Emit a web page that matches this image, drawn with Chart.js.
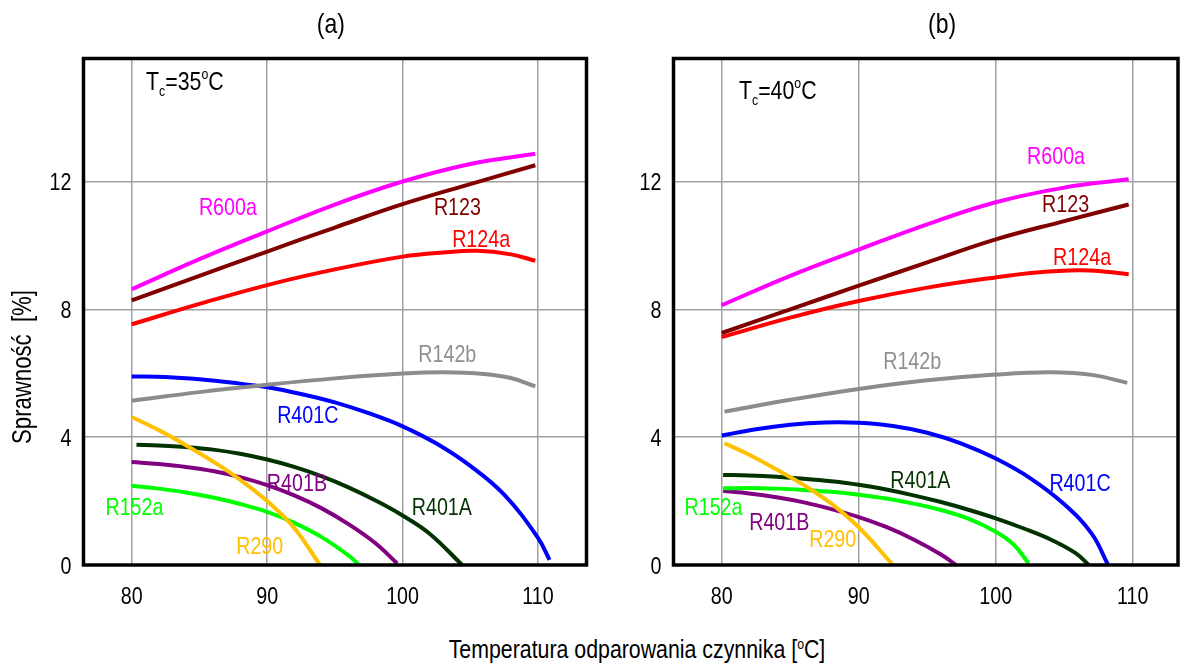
<!DOCTYPE html>
<html>
<head>
<meta charset="utf-8">
<script src="https://cdn.jsdelivr.net/npm/chart.js@4.4.0/dist/chart.umd.min.js"></script>
<style>
  body { margin: 0; background: #fff; }
  #wrap { position: relative; width: 1180px; height: 666px; overflow: hidden; }
  #ca { position: absolute; left: 0; top: 0; }
  #cb { position: absolute; left: 590px; top: 0; }
  #xtitle {
    position: absolute; left: 637px; top: 634px;
    transform: translateX(-50%) scaleX(0.82);
    white-space: nowrap; color: #000;
    font: 26px "Liberation Sans", Arial, sans-serif;
  }
  #xtitle sup { font-size: 15px; vertical-align: 9px; line-height: 0; }
</style>
</head>
<body>
<div id="wrap">
  <canvas id="ca" width="600" height="620"></canvas>
  <canvas id="cb" width="590" height="620"></canvas>
  <div id="xtitle">Temperatura odparowania czynnika [<sup>o</sup>C]</div>
</div>
<script>
// ticks
const xTicks = [80, 90, 100, 110];
const yTicks = [0, 4, 8, 12];

// (a) Tc = 35 C  -- [temperatura, sprawnosc]
const a_R600a = [[80, 8.63], [85, 9.57], [90, 10.44], [95, 11.28], [100, 12.0], [105, 12.55], [109.8, 12.87]];
const a_R123  = [[80, 8.28], [85, 9.05], [90, 9.81], [95, 10.56], [100, 11.29], [105, 11.92], [109.8, 12.51]];
const a_R124a = [[80, 7.53], [85, 8.17], [90, 8.76], [95, 9.25], [100, 9.65], [103, 9.78], [105.5, 9.83], [108, 9.72], [109.8, 9.52]];
const a_R142b = [[80, 5.14], [85, 5.41], [90, 5.64], [95, 5.84], [100, 5.99], [103, 6.03], [106, 5.98], [108, 5.85], [109.8, 5.59]];
const a_R401C = [[80, 5.9], [82.5, 5.88], [85, 5.81], [87.5, 5.7], [90, 5.56], [92.5, 5.35], [95, 5.09], [97.5, 4.75],
  [100, 4.34], [102.5, 3.8], [105, 3.1], [107.5, 2.2], [110, 0.85], [110.85, 0.16]];
const a_R290  = [[80, 4.63], [82, 4.22], [84, 3.75], [86, 3.24], [88, 2.67], [90, 2.0], [92, 1.16], [93.9, 0]];
const a_R401A = [[80.35, 3.76], [82, 3.74], [84, 3.69], [86, 3.61], [88, 3.48], [90, 3.3], [92, 3.07], [94, 2.78],
  [96, 2.43], [98, 2.02], [100, 1.55], [102, 0.98], [104.4, 0]];
const a_R401B = [[80, 3.22], [82, 3.16], [84, 3.07], [86, 2.94], [88, 2.75], [90, 2.5], [92, 2.18], [94, 1.78],
  [96, 1.28], [98, 0.68], [99.6, 0.05]];
const a_R152a = [[80, 2.48], [82, 2.39], [84, 2.27], [86, 2.11], [88, 1.91], [90, 1.66], [92, 1.32], [94, 0.88],
  [96, 0.3], [96.8, 0]];

// (b) Tc = 40 C
const b_R600a = [[80, 8.13], [85, 9.05], [90, 9.87], [95, 10.66], [100, 11.35], [105, 11.81], [109.7, 12.07]];
const b_R123  = [[80, 7.26], [85, 8.0], [90, 8.74], [95, 9.47], [100, 10.19], [105, 10.76], [109.7, 11.28]];
const b_R124a = [[80, 7.13], [85, 7.74], [90, 8.26], [95, 8.68], [100, 9.0], [103, 9.15], [106, 9.22], [108, 9.18], [109.7, 9.1]];
const b_R142b = [[80.2, 4.8], [85, 5.17], [90, 5.51], [95, 5.78], [100, 5.96], [104, 6.03], [107, 5.95], [109.6, 5.7]];
const b_R401C = [[80, 4.05], [82.5, 4.25], [85, 4.39], [87.5, 4.46], [90, 4.45], [92.5, 4.35], [95, 4.14], [97.5, 3.8],
  [100, 3.33], [102.5, 2.72], [105, 1.9], [107, 0.98], [108.2, 0]];
const b_R290  = [[80.2, 3.81], [82, 3.45], [84, 2.99], [86, 2.5], [88, 1.92], [90, 1.18], [92.5, 0]];
const b_R401A = [[80.1, 2.82], [82, 2.8], [84, 2.76], [86, 2.7], [88, 2.62], [90, 2.51], [92, 2.36], [94, 2.18],
  [96, 1.97], [98, 1.73], [100, 1.46], [102, 1.15], [104, 0.8], [105.8, 0.38], [106.8, 0]];
const b_R152a = [[80.1, 2.4], [82, 2.41], [84, 2.39], [86, 2.35], [88, 2.29], [90, 2.2], [92, 2.08], [94, 1.92],
  [96, 1.72], [98, 1.45], [100, 1.04], [101.3, 0.64], [102.4, 0.05]];
const b_R401B = [[80.1, 2.32], [82, 2.24], [84, 2.12], [86, 1.96], [88, 1.75], [90, 1.5], [92, 1.19], [94, 0.8],
  [96, 0.33], [97.1, 0]];

// curve labels: name, x, y (data units)
const a_notes = [['R600a', 87.1, 11.16], ['R123', 104.05, 11.16], ['R124a', 105.8, 10.16], ['R142b', 103.3, 6.55],
  ['R401C', 93.0, 4.66], ['R401B', 92.2, 2.53], ['R401A', 102.9, 1.77], ['R152a', 80.2, 1.77], ['R290', 89.45, 0.54]];
const b_notes = [['R600a', 104.4, 12.76], ['R123', 105.1, 11.26], ['R124a', 106.3, 9.58], ['R142b', 93.9, 6.33],
  ['R401C', 106.15, 2.53], ['R401A', 94.5, 2.62], ['R152a', 79.4, 1.77], ['R401B', 84.2, 1.31], ['R290', 88.1, 0.76]];

const colors = {
  R600a: '#ff00ff', R123: '#800000', R124a: '#ff0000', R142b: '#8c8c8c', R401C: '#0000ff',
  R401A: '#003300', R401B: '#800080', R152a: '#00ff00', R290: '#ffc000'
};

// no narrow face installed -> squeeze Liberation Sans horizontally
const FONT = '"Liberation Sans", Arial, sans-serif';
const NARROW = 0.82;
Chart.defaults.font.family = FONT;
Chart.defaults.color = '#000';

function narrowText(ctx, txt, x, y, align) {
  ctx.save();
  ctx.translate(x, y);
  ctx.scale(NARROW, 1);
  ctx.textAlign = align || 'center';
  ctx.fillText(txt, 0, 0);
  ctx.restore();
}

function ds(name, pts) {
  return {
    label: name,
    data: pts.map(p => ({ x: p[0], y: p[1] })),
    borderColor: colors[name],
    borderWidth: 4,
    pointRadius: 0,
    fill: false,
    tension: 0.4
  };
}

function makeChart(id, sets, notes, opts) {
  const decor = {
    id: 'decor',
    afterDatasetsDraw(chart) {
      const { ctx, chartArea: { left, top, right, bottom }, scales: { x, y } } = chart;
      ctx.save();
      ctx.strokeStyle = '#000';
      ctx.lineWidth = 3.5;
      ctx.strokeRect(left, top, right - left, bottom - top);

      ctx.textBaseline = 'middle';

      // tick labels
      ctx.fillStyle = '#000';
      ctx.font = '24px ' + FONT;
      xTicks.forEach(v => narrowText(ctx, String(v), x.getPixelForValue(v), 597, 'center'));
      yTicks.forEach(v => narrowText(ctx, String(v), left - 12, y.getPixelForValue(v) + 2, 'right'));

      // curve labels
      notes.forEach(n => {
        ctx.fillStyle = n[0] === 'R142b' ? '#909090' : colors[n[0]];
        narrowText(ctx, n[0], x.getPixelForValue(n[1]), y.getPixelForValue(n[2]), 'center');
      });

      // panel title
      ctx.fillStyle = '#000';
      ctx.font = '28px ' + FONT;
      narrowText(ctx, opts.title, x.getPixelForValue(opts.titleX), 25, 'center');

      // Tc label
      let px = x.getPixelForValue(opts.tcX), py = y.getPixelForValue(opts.tcY);
      const parts = [['T', 26, 0], ['c', 15, 9], ['=' + opts.tc, 26, 0], ['o', 15, -8], ['C', 26, 0]];
      parts.forEach(p => {
        ctx.font = p[1] + 'px ' + FONT;
        narrowText(ctx, p[0], px, py + p[2], 'left');
        px += ctx.measureText(p[0]).width * NARROW;
      });

      if (opts.yTitle) {
        ctx.translate(24, 367);
        ctx.rotate(-Math.PI / 2);
        ctx.font = '27px ' + FONT;
        narrowText(ctx, opts.yTitle, 0, 0, 'center');
      }
      ctx.restore();
    }
  };

  return new Chart(document.getElementById(id), {
    type: 'line',
    data: { datasets: sets },
    options: {
      responsive: false,
      animation: false,
      layout: { padding: { top: 58.5, right: opts.padRight, left: 0, bottom: 0 } },
      plugins: { legend: { display: false }, tooltip: { enabled: false } },
      scales: {
        x: {
          type: 'linear', min: opts.xMin, max: opts.xMax,
          afterBuildTicks: s => { s.ticks = xTicks.map(v => ({ value: v })); },
          afterFit: s => { s.height = 55; },
          grid: { color: '#a0a0a0', lineWidth: 1.5, drawTicks: false },
          border: { display: false },
          ticks: { display: false }
        },
        y: {
          min: 0, max: 15.85,
          afterBuildTicks: s => { s.ticks = yTicks.map(v => ({ value: v })); },
          afterFit: s => { s.width = 83.5; },
          grid: { color: '#a0a0a0', lineWidth: 1.5, drawTicks: false },
          border: { display: false },
          ticks: { display: false }
        }
      }
    },
    plugins: [decor]
  });
}

makeChart('ca', [
  ds('R600a', a_R600a), ds('R123', a_R123), ds('R124a', a_R124a), ds('R142b', a_R142b), ds('R401C', a_R401C),
  ds('R290', a_R290), ds('R401A', a_R401A), ds('R401B', a_R401B), ds('R152a', a_R152a)
], a_notes, { xMin: 76.44, xMax: 113.58, padRight: 13.5, title: '(a)', titleX: 94.7, tc: '35', tcX: 81.06, tcY: 15.1, yTitle: 'Sprawność  [%]' });

makeChart('cb', [
  ds('R600a', b_R600a), ds('R123', b_R123), ds('R124a', b_R124a), ds('R142b', b_R142b), ds('R401C', b_R401C),
  ds('R290', b_R290), ds('R401A', b_R401A), ds('R152a', b_R152a), ds('R401B', b_R401B)
], b_notes, { xMin: 76.48, xMax: 113.3, padRight: 2, title: '(b)', titleX: 96.08, tc: '40', tcX: 81.26, tcY: 14.8 });
</script>
</body>
</html>
